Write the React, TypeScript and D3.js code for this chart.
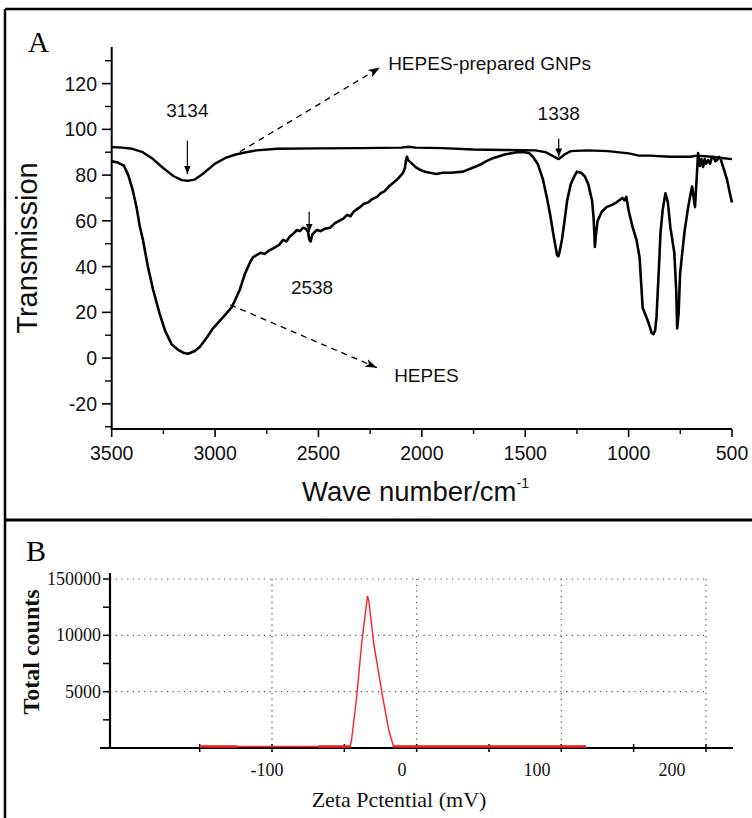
import React from "react";
import * as d3 from "d3";

// ---------- Panel A data (FTIR) ----------
const hepesWn = [3500,3470,3440,3420,3400,3380,3365,3349,3325,3300,3270,3242,3210,3179,3150,3131,3100,3073,3040,3010,2960,2918,2880,2855,2830,2817,2800,2780,2760,2740,2719,2700,2690,2671,2655,2640,2620,2604,2590,2574,2560,2550,2545,2538,2530,2520,2507,2490,2470,2444,2420,2400,2380,2362,2345,2330,2315,2299,2280,2260,2240,2217,2200,2180,2160,2140,2115,2091,2082,2076,2072,2066,2060,2048,2030,2009,1985,1961,1930,1900,1860,1801,1760,1719,1690,1656,1600,1540,1500,1480,1463,1440,1414,1395,1380,1360,1350,1346,1340,1335,1322,1310,1297,1280,1265,1250,1230,1212,1195,1185,1177,1170,1166,1163,1158,1150,1130,1107,1080,1060,1045,1030,1020,1011,1003,996,980,962,947,932,910,895,889,880,872,865,851,846,835,822,810,798,789,779,770,765,758,751,730,712,700,693,685,679,670,664,655,648,640,632,625,615,606,598,590,580,572,563,555,543,524,510,500];
const hepesT = [86,85.5,84,80,74,66,58,51.7,40,30,20,12,6,3.6,2.2,1.9,3,5,9,13,18,22.4,30,37,42,44,45,46,45.5,47,48,49,49.5,51.7,51,53,54.5,56,55.5,57,56.5,55,52,51,54,55,56,55.5,56.5,57,59,60,61,62.6,62,64,65,66,67.5,68,69.5,70.5,72,73,75,76.5,78.5,81,83,87,88,86.5,86,85,83.5,82.3,81.5,81,80.5,81,81,81.5,83,84.5,86,87.4,89,90,90,89.5,88,85,78,70,63,52,47,45,44.5,46,52,60,69,76,79,81.5,81,79.5,76,72,69,62,55,48.6,54,60,64,66,67,68,69,70,69,70.5,66,63,57,51.7,44,22,17,13,11,10.5,12,18,44,54.6,65,72,68,57,52,46,30,13,20,37,55,66,72,75,70,66,80,89.6,84,87,83.6,87,85,86.5,85,87.5,88,86,86.6,88,87,83.6,78,72,68];

const gnpWn = [3500,3450,3400,3350,3300,3250,3200,3160,3134,3100,3060,3000,2950,2900,2850,2800,2700,2500,2300,2100,2065,2030,1900,1750,1600,1450,1400,1370,1338,1310,1280,1200,1100,1000,950,900,800,700,670,600,550,500];
const gnpT = [92.3,92,91.5,90,87,83,79.5,77.8,77.5,78,80.5,85,87.5,89,90,90.8,91.5,91.7,91.8,92,92.4,92,91.8,91.2,91,90.8,90,88.5,87,89,90.5,90.8,90.5,89.5,88.5,88.5,88,88,88.5,88,87.5,87];

const xTicksA = [3500, 3000, 2500, 2000, 1500, 1000, 500];
const xMinorA = [3250, 2750, 2250, 1750, 1250, 750];
const yTicksA = [-20, 0, 20, 40, 60, 80, 100, 120];
const yMinorA = [-30, -10, 10, 30, 50, 70, 90, 110, 130];

// ---------- Panel B data (zeta potential) ----------
const zetaMv = [-150, -46, -45, -41.5, -38, -34, -33, -29.7, -24, -19.3, -16, 117];
const zetaCounts = [0, 0, 700, 4500, 9300, 13500, 13000, 9300, 4900, 1600, 0, 0];
const zetaThickRanges = [[-150, -124], [-68, -46], [-16, 117]];
const xTicksB = [-100, 0, 100, 200];
const xTickLabelsB = ["-100", "0", "100", "200"];
const xMinorB = [-150, -100, -50, 0, 50, 100, 150, 200];
const yTicksB = [5000, 10000, 15000];
const yTickLabelsB = ["5000", "10000", "150000"];
const yMinorB = [2500, 7500, 12500];

export default function App() {
  const W = 752, H = 818;
  const sans = "Arial, 'Liberation Sans', Helvetica, sans-serif";
  const serif = "'Times New Roman', 'Liberation Serif', serif";

  // Panel A scales
  const xA = d3.scaleLinear().domain([3500, 500]).range([111.7, 732]);
  const yA = d3.scaleLinear().domain([-31, 136]).range([429, 47]);
  const mk = (wn: number[], t: number[]) =>
    d3.line<number>().x((_, i) => xA(wn[i])).y((_, i) => yA(t[i])).curve(d3.curveLinear)(wn) || "";
  const hepesPath = mk(hepesWn, hepesT);
  const gnpPath = mk(gnpWn, gnpT);

  // Panel B scales
  const xB = d3.scaleLinear().domain([-212, 218]).range([110, 732]);
  const xBLabel = d3.scaleLinear().domain([-100, 200]).range([267, 672]);
  const yB = d3.scaleLinear().domain([0, 15000]).range([748, 579]);
  const zetaPath =
    d3.line<number>().x((_, i) => xB(zetaMv[i])).y((_, i) => Math.min(yB(zetaCounts[i]), 746.5))(zetaMv) || "";

  return (
    <svg width={W} height={H} style={{ position: "absolute", left: 0, top: 0, background: "#fff" }}>
      <defs>
        <marker id="arrS" viewBox="0 0 10 10" refX="10" refY="5" markerWidth="7" markerHeight="7" orient="auto">
          <path d="M0,1 L10,5 L0,9 Z" fill="#000" />
        </marker>
        <marker id="arrD" viewBox="0 0 10 10" refX="10" refY="5" markerWidth="9" markerHeight="9" orient="auto">
          <path d="M0,1.5 L10,5 L0,8.5 L2.5,5 Z" fill="#000" />
        </marker>
      </defs>
      <rect x={0} y={0} width={W} height={H} fill="#fff" />
      {/* frame */}
      <line x1={5} y1={9} x2={W} y2={9} stroke="#000" strokeWidth={2.5} />
      <line x1={5} y1={9} x2={5} y2={H} stroke="#000" strokeWidth={2.5} />
      <line x1={5} y1={520} x2={W} y2={520} stroke="#000" strokeWidth={3} />

      {/* ---------------- Panel A ---------------- */}
      <text x={28} y={52} fontFamily={serif} fontSize={29} fill="#000">A</text>
      <line x1={111.7} y1={47} x2={111.7} y2={429} stroke="#000" strokeWidth={2} />
      <line x1={110.7} y1={429} x2={732} y2={429} stroke="#000" strokeWidth={2} />
      {yTicksA.map((v) => (
        <g key={"ya" + v}>
          <line x1={102} x2={111.7} y1={yA(v)} y2={yA(v)} stroke="#000" strokeWidth={1.6} />
          <text x={97} y={yA(v)} dy="0.36em" textAnchor="end" fontFamily={sans} fontSize={19.5} fill="#111">{v}</text>
        </g>
      ))}
      {yMinorA.map((v) => (
        <line key={"yma" + v} x1={105} x2={111.7} y1={yA(v)} y2={yA(v)} stroke="#000" strokeWidth={1.4} />
      ))}
      {xTicksA.map((v) => (
        <g key={"xa" + v}>
          <line x1={xA(v)} x2={xA(v)} y1={429} y2={437} stroke="#000" strokeWidth={1.6} />
          <text x={xA(v)} y={453} dy="0.36em" textAnchor="middle" fontFamily={sans} fontSize={19.5} fill="#111">{v}</text>
        </g>
      ))}
      {xMinorA.map((v) => (
        <line key={"xma" + v} x1={xA(v)} x2={xA(v)} y1={429} y2={434} stroke="#000" strokeWidth={1.4} />
      ))}
      <text transform="translate(37,248) rotate(-90)" textAnchor="middle" fontFamily={sans} fontSize={29} fill="#111">Transmission</text>
      <text x={302} y={501} fontFamily={sans} fontSize={27.5} fill="#111">
        Wave number/cm<tspan fontSize={14} dy={-13}>-1</tspan>
      </text>

      <path d={gnpPath} fill="none" stroke="#000" strokeWidth={2.4} strokeLinejoin="round" />
      <path d={hepesPath} fill="none" stroke="#000" strokeWidth={2.6} strokeLinejoin="round" />

      {/* annotations */}
      <text x={xA(3134)} y={yA(108.5)} dy="0.36em" textAnchor="middle" fontFamily={sans} fontSize={19} fill="#111">3134</text>
      <line x1={xA(3134)} x2={xA(3134)} y1={yA(95)} y2={yA(80.5)} stroke="#000" strokeWidth={1.2} markerEnd="url(#arrS)" />
      <text x={xA(1338)} y={yA(107)} dy="0.36em" textAnchor="middle" fontFamily={sans} fontSize={19} fill="#111">1338</text>
      <line x1={xA(1338)} x2={xA(1338)} y1={yA(96)} y2={yA(88)} stroke="#000" strokeWidth={1.2} markerEnd="url(#arrS)" />
      <text x={xA(2531)} y={yA(31)} dy="0.36em" textAnchor="middle" fontFamily={sans} fontSize={19} fill="#111">2538</text>
      <line x1={xA(2545)} x2={xA(2545)} y1={yA(64)} y2={yA(55)} stroke="#000" strokeWidth={1.2} markerEnd="url(#arrS)" />

      <line x1={xA(2880)} y1={yA(90.2)} x2={xA(2203)} y2={yA(127)} stroke="#000" strokeWidth={1.3} strokeDasharray="6,5" markerEnd="url(#arrD)" />
      <text x={xA(2163)} y={yA(129)} dy="0.36em" fontFamily={sans} fontSize={19} fill="#111">HEPES-prepared GNPs</text>
      <line x1={xA(2927)} y1={yA(23.3)} x2={xA(2217)} y2={yA(-4.2)} stroke="#000" strokeWidth={1.3} strokeDasharray="6,5" markerEnd="url(#arrD)" />
      <text x={xA(2134)} y={yA(-7.3)} dy="0.36em" fontFamily={sans} fontSize={19} fill="#111">HEPES</text>

      {/* ---------------- Panel B ---------------- */}
      <text x={26} y={561} fontFamily={serif} fontSize={30} fill="#000">B</text>
      {yTicksB.map((v) => (
        <line key={"gyb" + v} x1={110} x2={xB(200)} y1={yB(v)} y2={yB(v)} stroke="#555" strokeWidth={1.2} strokeDasharray="1.2,4.5" />
      ))}
      {xTicksB.map((v) => (
        <line key={"gxb" + v} x1={xB(v)} x2={xB(v)} y1={yB(15000)} y2={748} stroke="#555" strokeWidth={1.2} strokeDasharray="1.2,4.5" />
      ))}
      <line x1={110} y1={573} x2={110} y2={748} stroke="#000" strokeWidth={2.2} />
      <line x1={100} y1={748} x2={733} y2={748} stroke="#000" strokeWidth={2.2} />
      {yTicksB.map((v, i) => (
        <g key={"yb" + v}>
          <line x1={103} x2={110} y1={yB(v)} y2={yB(v)} stroke="#000" strokeWidth={1.5} />
          <text x={101} y={yB(v)} dy="0.33em" textAnchor="end" fontFamily={serif} fontSize={18} fill="#111">{yTickLabelsB[i]}</text>
        </g>
      ))}
      {yMinorB.map((v) => (
        <line key={"ymb" + v} x1={103} x2={110} y1={yB(v)} y2={yB(v)} stroke="#000" strokeWidth={1.5} />
      ))}
      {xMinorB.map((v) => (
        <line key={"xmb" + v} x1={xB(v)} x2={xB(v)} y1={744} y2={752} stroke="#000" strokeWidth={1.5} />
      ))}
      <path d={zetaPath} fill="none" stroke="#ff2020" strokeWidth={1.4} />
      {zetaThickRanges.map((r, i) => (
        <line key={"zr" + i} x1={xB(r[0])} x2={xB(r[1])} y1={746.5} y2={746.5} stroke="#ee2020" strokeWidth={2.6} />
      ))}
      {xTicksB.map((v, i) => (
        <text key={"xbl" + v} x={xBLabel(v)} y={770} dy="0.33em" textAnchor="middle" fontFamily={serif} fontSize={18} fill="#111">{xTickLabelsB[i]}</text>
      ))}
      <text transform="translate(31,652) rotate(-90)" dy="0.33em" textAnchor="middle" fontFamily={serif} fontWeight="bold" fontSize={24} fill="#111">Total counts</text>
      <text x={399} y={800} dy="0.33em" textAnchor="middle" fontFamily={serif} fontSize={22} fill="#111">Zeta Pctential (mV)</text>
    </svg>
  );
}
